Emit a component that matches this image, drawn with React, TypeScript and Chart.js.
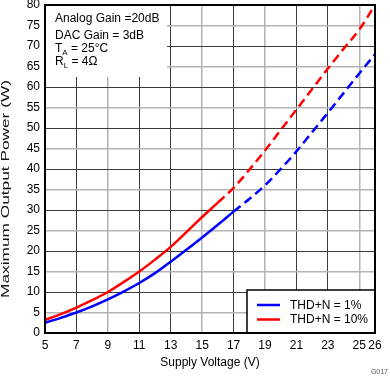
import React, { useEffect, useRef } from "react";
import { Chart, registerables } from "chart.js";

Chart.register(...registerables);

// ---- data ----
const voltages = [5, 6, 7, 8, 9, 10, 11, 12, 13, 14, 15, 16, 17, 18, 19, 20, 21, 22, 23, 24, 25, 26];
const thd1Power = [2.5, 3.7, 5.0, 6.5, 8.2, 10.1, 12.2, 14.6, 17.4, 20.3, 23.3, 26.4, 29.6, 32.7, 36.0, 40.0, 44.3, 49.0, 53.7, 58.5, 63.3, 68.0];
const thd10Power = [3.2, 4.6, 6.2, 8.0, 10.0, 12.4, 15.0, 17.9, 21.0, 24.6, 28.3, 31.8, 35.4, 39.8, 44.5, 49.5, 54.5, 59.5, 64.5, 69.3, 74.0, 80.0];
const thd1DashFrom = 17;
const thd10DashFrom = 16;
const seriesLabels = ["THD+N = 1%", "THD+N = 10%"];
const seriesColors = ["#0000ff", "#ff0000"];
const xTickValues = [5, 7, 9, 11, 13, 15, 17, 19, 21, 23, 25, 26];
const xLightGrid = [9, 15, 19, 25];
const yMin = 0;
const yMax = 80;
const yStep = 5;
const xTitle = "Supply Voltage (V)";
const yTitle = "Maximum Output Power (W)";
const noteTag = "G017";

const FONT = "'Liberation Sans', Arial, Helvetica, sans-serif";
const DARK = "#3c3c3c";
const LIGHT = "#b4b4b4";

function toPoints(xs: number[], ys: number[]) {
  return xs.map((x, i) => ({ x, y: ys[i] }));
}

const overlayPlugin = {
  id: "overlay",
  beforeDatasetsDraw(chart: any) {
    const { ctx, chartArea } = chart;
    const { left, top } = chartArea;
    ctx.save();
    // white annotation box
    ctx.fillStyle = "#ffffff";
    ctx.fillRect(left, top, 122, 72);
    ctx.fillStyle = "#000000";
    ctx.textBaseline = "alphabetic";
    ctx.textAlign = "left";
    const x0 = left + 10;
    const big = `12px ${FONT}`;
    const small = `8px ${FONT}`;
    ctx.font = big;
    ctx.fillText("Analog Gain =20dB", x0, 22);
    ctx.fillText("DAC Gain = 3dB", x0, 39);
    const drawSub = (main: string, sub: string, rest: string, y: number) => {
      ctx.font = big;
      ctx.fillText(main, x0, y);
      let x = x0 + ctx.measureText(main).width;
      ctx.font = small;
      ctx.fillText(sub, x, y + 3);
      x += ctx.measureText(sub).width;
      ctx.font = big;
      ctx.fillText(rest, x, y);
    };
    drawSub("T", "A", " = 25°C", 52);
    drawSub("R", "L", " = 4Ω", 65);
    ctx.restore();
  },
  afterDatasetsDraw(chart: any) {
    const { ctx, chartArea } = chart;
    const { left, top, right, bottom } = chartArea;
    ctx.save();
    // legend box
    const bx = 247;
    const by = 290;
    ctx.fillStyle = "#ffffff";
    ctx.fillRect(bx, by, right - bx, bottom - by);
    ctx.strokeStyle = "#000000";
    ctx.lineWidth = 1.5;
    ctx.strokeRect(bx, by, right - bx, bottom - by);
    ctx.font = `12px ${FONT}`;
    ctx.textAlign = "left";
    ctx.textBaseline = "middle";
    chart.data.datasets.forEach((ds: any, i: number) => {
      const y = 305 + i * 14.5;
      ctx.strokeStyle = ds.borderColor;
      ctx.lineWidth = 2.5;
      ctx.beginPath();
      ctx.moveTo(257, y);
      ctx.lineTo(280, y);
      ctx.stroke();
      ctx.fillStyle = "#000000";
      ctx.fillText(ds.label, 290, y + 0.5);
    });
    // plot frame
    ctx.strokeStyle = "#000000";
    ctx.lineWidth = 2;
    ctx.strokeRect(left, top, right - left, bottom - top);
    // y-axis title (stretched along its length, as in the reference)
    ctx.save();
    ctx.translate(8.5, 189);
    ctx.rotate(-Math.PI / 2);
    ctx.font = `10px ${FONT}`;
    const w = ctx.measureText(yTitle).width;
    ctx.scale(218 / w, 1);
    ctx.fillStyle = "#111111";
    ctx.textAlign = "center";
    ctx.textBaseline = "alphabetic";
    ctx.fillText(yTitle, 0, 0);
    ctx.restore();
    // figure tag
    ctx.fillStyle = "#555555";
    ctx.font = `7px ${FONT}`;
    ctx.textAlign = "right";
    ctx.textBaseline = "alphabetic";
    ctx.fillText(noteTag, 388, 374);
    ctx.restore();
  },
};

export default function App() {
  const canvasRef = useRef<HTMLCanvasElement | null>(null);

  useEffect(() => {
    if (!canvasRef.current) return;
    const chart = new Chart(canvasRef.current, {
      type: "line",
      data: {
        datasets: [
          {
            label: seriesLabels[0],
            data: toPoints(voltages, thd1Power),
            borderColor: seriesColors[0],
            backgroundColor: seriesColors[0],
            borderWidth: 2.5,
            pointRadius: 0,
            cubicInterpolationMode: "monotone",
            segment: {
              borderDash: (c: any) => (c.p0.parsed.x >= thd1DashFrom ? [9, 5] : undefined),
            },
          },
          {
            label: seriesLabels[1],
            data: toPoints(voltages, thd10Power),
            borderColor: seriesColors[1],
            backgroundColor: seriesColors[1],
            borderWidth: 2.5,
            pointRadius: 0,
            cubicInterpolationMode: "monotone",
            segment: {
              borderDash: (c: any) => (c.p0.parsed.x >= thd10DashFrom ? [9, 5] : undefined),
            },
          },
        ],
      },
      options: {
        responsive: false,
        animation: false,
        layout: { padding: { left: 0, top: 5, right: 15, bottom: 0 } },
        plugins: {
          legend: { display: false },
          tooltip: { enabled: false },
        },
        scales: {
          x: {
            type: "linear",
            min: 5,
            max: 26,
            afterBuildTicks: (scale: any) => {
              scale.ticks = xTickValues.map((v) => ({ value: v }));
            },
            afterFit: (scale: any) => {
              scale.height = 44;
              scale.paddingLeft = 0;
              scale.paddingRight = 0;
              scale.paddingTop = 0;
              scale.paddingBottom = 0;
            },
            border: { display: false },
            grid: {
              drawTicks: false,
              color: (c: any) => (xLightGrid.includes(c.tick?.value) ? LIGHT : DARK),
              lineWidth: (c: any) => (xLightGrid.includes(c.tick?.value) ? 1.5 : 1),
            },
            ticks: {
              autoSkip: false,
              maxRotation: 0,
              padding: 5,
              color: "#000000",
              font: { family: FONT, size: 12 },
              callback: (v: any) => String(v),
            },
            title: {
              display: true,
              text: xTitle,
              color: "#000000",
              font: { family: FONT, size: 12 },
              padding: { top: 7, bottom: 7 },
            },
          },
          y: {
            type: "linear",
            min: yMin,
            max: yMax,
            afterFit: (scale: any) => {
              scale.width = 45;
              scale.paddingLeft = 0;
              scale.paddingRight = 0;
              scale.paddingTop = 0;
              scale.paddingBottom = 0;
            },
            border: { display: false },
            grid: {
              drawTicks: false,
              color: (c: any) => (c.tick && c.tick.value % 10 === 0 ? DARK : LIGHT),
              lineWidth: (c: any) => (c.tick && c.tick.value % 10 === 0 ? 1 : 1.5),
            },
            ticks: {
              stepSize: yStep,
              padding: 5,
              color: "#000000",
              font: { family: FONT, size: 12 },
            },
            title: { display: false, text: yTitle },
          },
        },
      },
      plugins: [overlayPlugin],
    } as any);
    return () => chart.destroy();
  }, []);

  return (
    <div style={{ position: "fixed", left: 0, top: 0, width: 390, height: 377, background: "#ffffff" }}>
      <canvas ref={canvasRef} width={390} height={377} style={{ width: 390, height: 377, display: "block" }} />
    </div>
  );
}
